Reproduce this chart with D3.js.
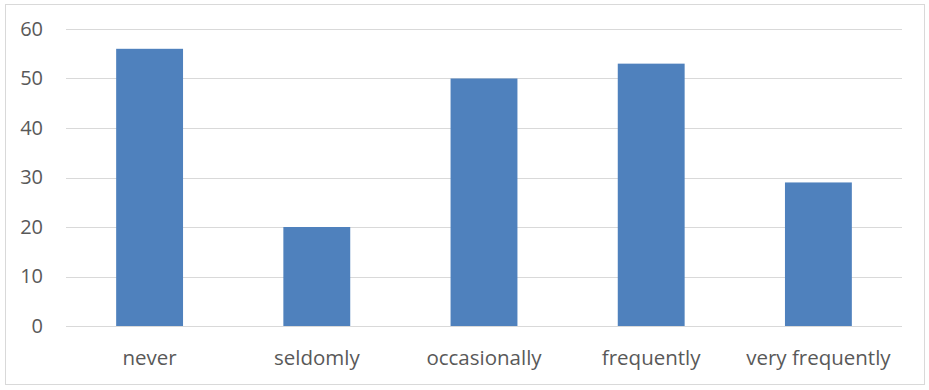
<!DOCTYPE html>
<html>
<head>
<meta charset="utf-8">
<script src="https://cdn.jsdelivr.net/npm/d3@7"></script>
<style>
  body { margin: 0; background: #fff; }
  text { font-family: "Open Sans", sans-serif; fill: #595959; }
</style>
</head>
<body>
<script>
// Data
const categories = ['never', 'seldomly', 'occasionally', 'frequently', 'very frequently']
const values = [56, 20, 50, 53, 29]
const yTicks = [0, 10, 20, 30, 40, 50, 60]

const W = 929, H = 390
const margin = { top: 29, right: 27, bottom: 64, left: 66 }
const width = W - margin.left - margin.right
const height = H - margin.top - margin.bottom

const svg = d3.select('body').append('svg')
    .attr('width', W)
    .attr('height', H)

// outer border
svg.append('rect')
    .attr('x', 5.5).attr('y', 4.5)
    .attr('width', 919).attr('height', 380)
    .style('fill', 'none')
    .style('stroke', '#d9d9d9')

const g = svg.append('g')
    .attr('transform', `translate(${margin.left} ${margin.top})`)

const xScale = d3.scaleBand()
    .domain(categories)
    .range([0, width])
    .paddingInner(0.6)
    .paddingOuter(0.3)

const yScale = d3.scaleLinear()
    .domain([0, 60])
    .range([height, 0])

// gridlines
g.selectAll('.grid')
    .data(yTicks)
    .enter().append('line')
    .attr('x1', 0).attr('x2', width)
    .attr('y1', d => Math.round(yScale(d)) + 0.5)
    .attr('y2', d => Math.round(yScale(d)) + 0.5)
    .style('stroke', '#d9d9d9')

// y labels
const yAxis = g.append('g')
    .call(d3.axisLeft(yScale).tickValues(yTicks).tickSize(0).tickPadding(23))
yAxis.select('.domain').remove()
yAxis.selectAll('text').style('font-size', '20px').style('fill', '#595959').attr('font-family', 'Open Sans')

// bars
g.selectAll('.bar')
    .data(values)
    .enter().append('rect')
    .attr('class', 'bar')
    .attr('x', (d, i) => xScale(categories[i]))
    .attr('y', d => yScale(d))
    .attr('width', xScale.bandwidth())
    .attr('height', d => height - yScale(d))
    .style('fill', '#4f81bd')

// x labels
const xAxis = g.append('g')
    .attr('transform', `translate(0, ${height})`)
    .call(d3.axisBottom(xScale).tickSize(0).tickPadding(24))
xAxis.select('.domain').remove()
xAxis.selectAll('text').style('font-size', '20.5px').style('fill', '#595959').attr('font-family', 'Open Sans')
</script>
</body>
</html>
